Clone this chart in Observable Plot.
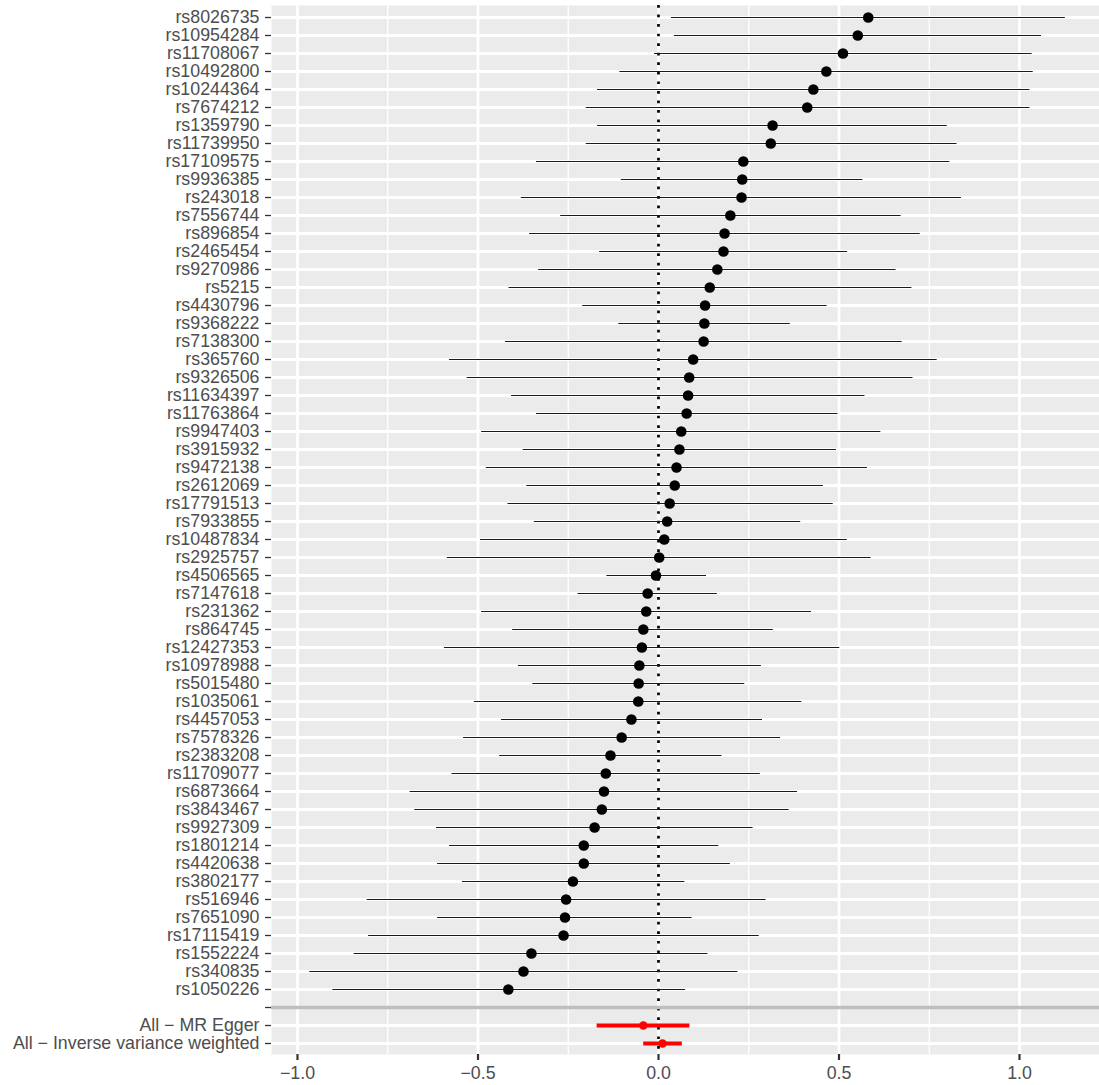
<!DOCTYPE html>
<html>
<head>
<meta charset="utf-8">
<script src="https://cdn.jsdelivr.net/npm/d3@7"></script>
<script src="https://cdn.jsdelivr.net/npm/@observablehq/plot@0.6"></script>
<style>
  html, body { margin: 0; padding: 0; background: white; }
  #chart { width: 1099px; height: 1085px; }
</style>
</head>
<body>
<div id="chart"></div>
<script>
const snps = ["rs8026735","rs10954284","rs11708067","rs10492800","rs10244364","rs7674212","rs1359790","rs11739950","rs17109575","rs9936385","rs243018","rs7556744","rs896854","rs2465454","rs9270986","rs5215","rs4430796","rs9368222","rs7138300","rs365760","rs9326506","rs11634397","rs11763864","rs9947403","rs3915932","rs9472138","rs2612069","rs17791513","rs7933855","rs10487834","rs2925757","rs4506565","rs7147618","rs231362","rs864745","rs12427353","rs10978988","rs5015480","rs1035061","rs4457053","rs7578326","rs2383208","rs11709077","rs6873664","rs3843467","rs9927309","rs1801214","rs4420638","rs3802177","rs516946","rs7651090","rs17115419","rs1552224","rs340835","rs1050226"];
const beta = [0.581,0.552,0.511,0.465,0.429,0.412,0.316,0.311,0.235,0.232,0.230,0.199,0.183,0.180,0.163,0.142,0.129,0.127,0.125,0.096,0.085,0.082,0.078,0.063,0.058,0.050,0.045,0.031,0.024,0.016,0.002,-0.007,-0.030,-0.034,-0.042,-0.046,-0.053,-0.055,-0.056,-0.075,-0.102,-0.133,-0.146,-0.151,-0.157,-0.177,-0.207,-0.207,-0.237,-0.256,-0.259,-0.263,-0.352,-0.374,-0.416];
const lower = [0.036,0.044,-0.011,-0.107,-0.169,-0.200,-0.169,-0.200,-0.338,-0.103,-0.380,-0.271,-0.357,-0.163,-0.332,-0.414,-0.210,-0.110,-0.424,-0.579,-0.530,-0.407,-0.338,-0.490,-0.375,-0.477,-0.365,-0.417,-0.344,-0.493,-0.585,-0.143,-0.223,-0.490,-0.404,-0.593,-0.388,-0.348,-0.510,-0.435,-0.540,-0.440,-0.572,-0.688,-0.675,-0.615,-0.579,-0.612,-0.543,-0.807,-0.612,-0.803,-0.843,-0.966,-0.902];
const upper = [1.127,1.061,1.035,1.038,1.029,1.029,0.800,0.827,0.807,0.566,0.839,0.672,0.725,0.524,0.658,0.702,0.467,0.365,0.675,0.772,0.705,0.572,0.497,0.616,0.493,0.579,0.457,0.484,0.394,0.523,0.589,0.133,0.163,0.424,0.318,0.502,0.285,0.239,0.397,0.288,0.338,0.176,0.282,0.385,0.362,0.262,0.167,0.199,0.073,0.298,0.093,0.279,0.137,0.220,0.075];

const methods = ["All − MR Egger", "All − Inverse variance weighted"];
const methodBeta = [-0.042, 0.011];
const methodLower = [-0.170, -0.041];
const methodUpper = [0.087, 0.066];

const xTicks = [-1.0, -0.5, 0.0, 0.5, 1.0];
const xMinor = [-0.75, -0.25, 0.25, 0.75];

const snpRows = snps.map((s, i) => ({label: s, b: beta[i], lo: lower[i], hi: upper[i]}));
const sumRows = methods.map((s, i) => ({label: s, b: methodBeta[i], lo: methodLower[i], hi: methodUpper[i]}));
const yDomain = snps.concat([""], methods);

const fmt = d => d.toFixed(1).replace("-", "\u2212");

const chart = Plot.plot({
  width: 1099,
  height: 1085,
  marginLeft: 271,
  marginRight: 0,
  marginTop: 5,
  marginBottom: 31,
  style: {fontFamily: "'Liberation Sans', Arial, sans-serif", fontSize: "17.8px", color: "#4d4d4d", background: "white"},
  x: {domain: [-1.072, 1.2216], label: null},
  y: {type: "point", domain: yDomain, padding: 0.6, label: null},
  marks: [
    Plot.frame({fill: "#ebebeb", stroke: "none"}),
    Plot.ruleX(xMinor, {stroke: "white", strokeWidth: 1.3}),
    Plot.ruleX(xTicks, {stroke: "white", strokeWidth: 2.7}),
    Plot.ruleY(yDomain, {stroke: "white", strokeWidth: 2.8}),
    Plot.ruleX([0], {stroke: "black", strokeWidth: 2.7, strokeDasharray: "2.7,6.85"}),
    Plot.ruleY(snpRows, {y: "label", x1: "lo", x2: "hi", stroke: "#1a1a1a", strokeWidth: 1.2}),
    Plot.ruleY(sumRows, {y: "label", x1: "lo", x2: "hi", stroke: "red", strokeWidth: 3.8}),
    Plot.dot(snpRows, {y: "label", x: "b", r: 5.3, fill: "black", stroke: "none"}),
    Plot.dot(sumRows, {y: "label", x: "b", r: 4.3, fill: "red", stroke: "none"}),
    Plot.ruleY([""], {stroke: "#bebebe", strokeWidth: 3.5}),
    Plot.axisY({tickSize: 6, tickPadding: 6, stroke: "#333333", fill: "#4d4d4d", strokeWidth: 1.3, label: null}),
    Plot.axisX({ticks: xTicks, tickFormat: fmt, tickSize: 6, tickPadding: 6, stroke: "#333333", fill: "#4d4d4d", strokeWidth: 2.2, label: null})
  ]
});
document.getElementById("chart").appendChild(chart);
</script>
</body>
</html>
